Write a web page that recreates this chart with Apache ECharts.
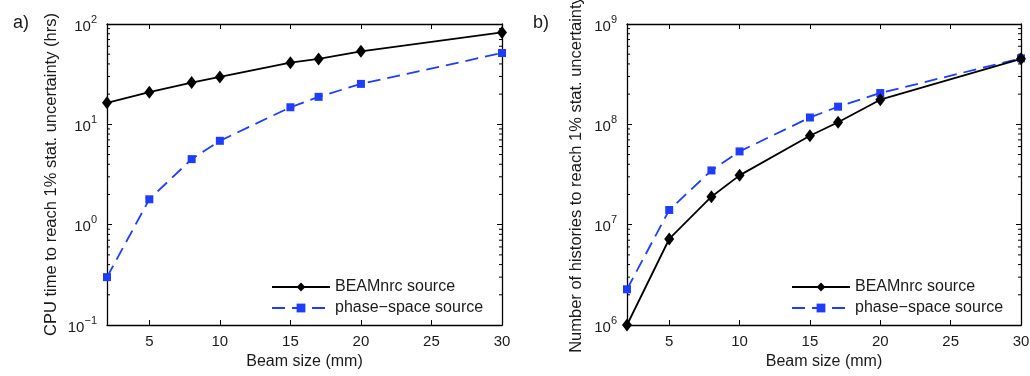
<!DOCTYPE html>
<html>
<head>
<meta charset="utf-8">
<script src="https://cdn.jsdelivr.net/npm/echarts@6/dist/echarts.min.js"></script>
<style>
  html, body { margin: 0; padding: 0; background: #fff; }
  #main { width: 1030px; height: 376px; }
</style>
</head>
<body>
<div id="main"></div>
<script>
// beam sizes (mm)
const beamSizes = [2, 5, 8, 10, 15, 17, 20, 30];

// a) CPU time to reach 1% stat. uncertainty (hrs)
const cpuBeam = [16.4, 20.9, 26.1, 29.7, 41.2, 44.9, 53.4, 82.5];
const cpuPhase = [0.30, 1.79, 4.5, 6.85, 14.8, 18.8, 25.3, 51.4];

// b) number of histories to reach 1% stat. uncertainty
const histBeam = [1.0e6, 7.2e6, 1.9e7, 3.1e7, 7.7e7, 1.05e8, 1.76e8, 4.5e8];
const histPhase = [2.27e6, 1.4e7, 3.47e7, 5.37e7, 1.17e8, 1.5e8, 2.05e8, 4.55e8];

const xTicks = [5, 10, 15, 20, 25, 30];
const yTicksA = [0.1, 1, 10, 100];
const yTicksB = [1e6, 1e7, 1e8, 1e9];

const FONT = '"Liberation Sans", Arial, Helvetica, sans-serif';
const TXT = '#1a1a1a';
const BLUE = '#1f3dff';

const chart = echarts.init(document.getElementById('main'));

const supFormatter = function (v) {
    const e = Math.round(Math.log10(v));
    const s = e < 0 ? '\u2212' + (-e) : String(e);
    return '{b|10}{s|' + s + '}';
};
const supRich = {
    b: { fontSize: 15, lineHeight: 20, color: TXT, fontFamily: FONT, verticalAlign: 'bottom' },
    s: { fontSize: 11, lineHeight: 12, color: TXT, fontFamily: FONT, verticalAlign: 'top' }
};

// minor log ticks between decades
const minorValues = (lo, hi) => {
    const out = [];
    for (let e = lo; e < hi; e++) {
        for (let k = 2; k <= 9; k++) out.push([2, k * Math.pow(10, e)]);
    }
    return out;
};

const minorSeries = (idx, data) => ({
    type: 'custom',
    xAxisIndex: idx * 2,
    yAxisIndex: idx * 2,
    silent: true,
    clip: false,
    z: 1,
    data: data,
    renderItem: function (params, api) {
        const v = api.value(1);
        const l = api.coord([2, v]);
        const r = api.coord([30, v]);
        const st = { stroke: '#000', lineWidth: 1 };
        return {
            type: 'group',
            children: [
                { type: 'line', shape: { x1: l[0], y1: l[1], x2: l[0] + 3, y2: l[1] }, style: st },
                { type: 'line', shape: { x1: r[0], y1: r[1], x2: r[0] - 3, y2: r[1] }, style: st }
            ]
        };
    }
});

const xAxisPair = (gi) => [
    {
        type: 'value', gridIndex: gi, min: 2, max: 30, position: 'bottom',
        name: 'Beam size (mm)', nameLocation: 'middle', nameGap: 29,
        nameTextStyle: { fontSize: 16, color: TXT, fontFamily: FONT },
        axisLine: { lineStyle: { color: '#000', width: 1.3 } },
        axisTick: { inside: true, length: 5, customValues: xTicks, lineStyle: { color: '#000' } },
        axisLabel: { customValues: xTicks, fontSize: 15, color: TXT, fontFamily: FONT, margin: 9 },
        splitLine: { show: false }
    },
    {
        type: 'value', gridIndex: gi, min: 2, max: 30, position: 'top',
        axisLine: { lineStyle: { color: '#000', width: 1.3 } },
        axisTick: { inside: true, length: 5, customValues: xTicks, lineStyle: { color: '#000' } },
        axisLabel: { show: false },
        splitLine: { show: false }
    }
];

const yAxisPair = (gi, min, max, ticks, title, gap) => [
    {
        type: 'log', logBase: 10, gridIndex: gi, min: min, max: max, position: 'left',
        name: title, nameLocation: 'middle', nameGap: gap, nameRotate: 90,
        nameTextStyle: { fontSize: 16.5, color: TXT, fontFamily: FONT },
        axisLine: { lineStyle: { color: '#000', width: 1.3 } },
        axisTick: { inside: true, length: 5, customValues: ticks, lineStyle: { color: '#000' } },
        axisLabel: { customValues: ticks, formatter: supFormatter, rich: supRich, margin: 10 },
        splitLine: { show: false }
    },
    {
        type: 'log', logBase: 10, gridIndex: gi, min: min, max: max, position: 'right',
        axisLine: { lineStyle: { color: '#000', width: 1.3 } },
        axisTick: { inside: true, length: 5, customValues: ticks, lineStyle: { color: '#000' } },
        axisLabel: { show: false },
        splitLine: { show: false }
    }
];

const lineSeries = (name, gi, ys, isPhase) => ({
    name: name,
    type: 'line',
    xAxisIndex: gi * 2,
    yAxisIndex: gi * 2,
    data: beamSizes.map((x, i) => [x, ys[i]]),
    symbol: isPhase ? 'rect' : 'diamond',
    symbolSize: isPhase ? [8, 8] : [10, 13],
    showAllSymbol: true,
    clip: false,
    z: isPhase ? 3 : 4,
    itemStyle: { color: isPhase ? BLUE : '#000' },
    lineStyle: isPhase
        ? { color: BLUE, width: 1.8, type: [13, 7] }
        : { color: '#000', width: 1.8, type: 'solid' }
});

const legendAt = (left, names) => ({
    left: left,
    top: 274,
    orient: 'vertical',
    itemWidth: 58,
    itemHeight: 11,
    itemGap: 5,
    selectedMode: false,
    textStyle: { fontSize: 16, color: TXT, fontFamily: FONT, lineHeight: 16 },
    data: names
});

const option = {
    backgroundColor: '#fff',
    animation: false,
    grid: [
        { left: 107, top: 24, width: 395, height: 301, containLabel: false, outerBoundsMode: 'none' },
        { left: 627, top: 24, width: 394, height: 301, containLabel: false, outerBoundsMode: 'none' }
    ],
    title: [
        { text: 'a)', left: 8, top: 9, textStyle: { fontSize: 18, fontWeight: 'normal', color: TXT, fontFamily: FONT } },
        { text: 'b)', left: 528, top: 9, textStyle: { fontSize: 18, fontWeight: 'normal', color: TXT, fontFamily: FONT } }
    ],
    legend: [
        legendAt(266, ['BEAMnrc source', 'phase\u2212space source']),
        legendAt(786, ['BEAMnrc source ', 'phase\u2212space source '])
    ],
    xAxis: xAxisPair(0).concat(xAxisPair(1)),
    yAxis: yAxisPair(0, 0.1, 100, yTicksA, 'CPU time to reach 1% stat. uncertainty (hrs)', 47)
        .concat(yAxisPair(1, 1e6, 1e9, yTicksB, 'Number of histories to reach 1% stat. uncertainty', 42)),
    series: [
        minorSeries(0, minorValues(-1, 2)),
        minorSeries(1, minorValues(6, 9)),
        lineSeries('BEAMnrc source', 0, cpuBeam, false),
        lineSeries('phase\u2212space source', 0, cpuPhase, true),
        lineSeries('BEAMnrc source ', 1, histBeam, false),
        lineSeries('phase\u2212space source ', 1, histPhase, true)
    ]
};

chart.setOption(option);
</script>
</body>
</html>
